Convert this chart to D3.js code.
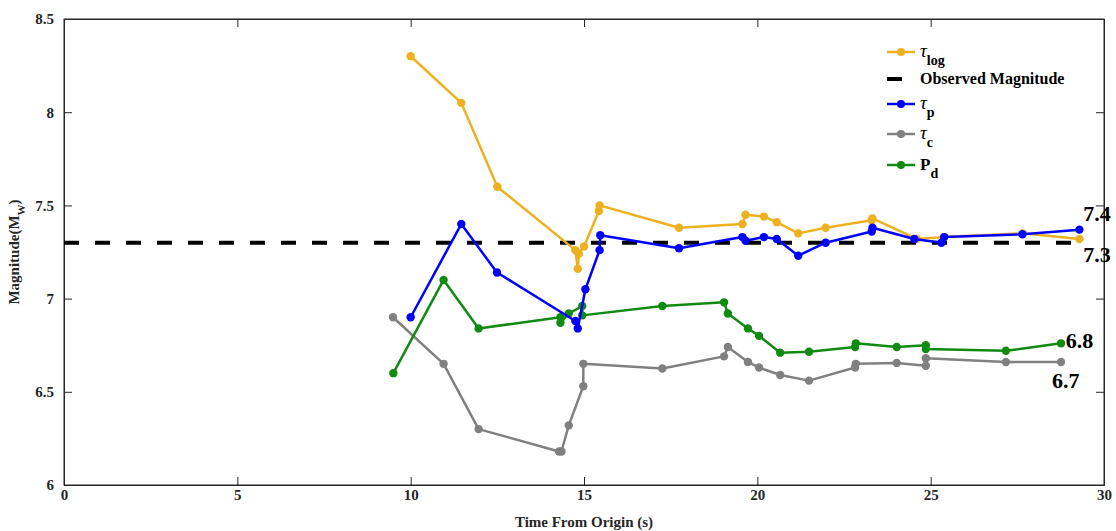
<!doctype html>
<html lang="en">
<head>
  <meta charset="utf-8">
  <title>Magnitude vs time</title>
  <script src="https://d3js.org/d3.v7.min.js"></script>
  <style>
  body { margin: 0; background: #fff; }
  text { font-family: "Liberation Serif", "Times New Roman", serif; font-weight: bold; }
  </style>
</head>
<body>
<script>
  // values
  var tauLogT = [10.0, 11.46, 12.5, 14.75, 14.82, 14.85, 15.0, 15.43, 15.45, 17.74, 19.57, 19.66, 20.19, 20.56, 21.18, 21.97, 23.3, 23.32, 24.6, 25.39, 27.65, 29.29];
  var tauLogM = [8.30, 8.05, 7.60, 7.26, 7.16, 7.24, 7.28, 7.47, 7.50, 7.38, 7.40, 7.45, 7.44, 7.41, 7.35, 7.38, 7.42, 7.43, 7.32, 7.33, 7.35, 7.32];

  var tauPT = [10.0, 11.46, 12.49, 14.75, 14.82, 15.04, 15.45, 15.47, 17.74, 19.57, 19.66, 20.19, 20.56, 21.18, 21.97, 23.3, 23.32, 24.53, 25.31, 25.39, 27.65, 29.29];
  var tauPM = [6.90, 7.40, 7.14, 6.88, 6.84, 7.05, 7.26, 7.34, 7.27, 7.33, 7.31, 7.33, 7.32, 7.23, 7.30, 7.36, 7.38, 7.32, 7.30, 7.33, 7.345, 7.37];

  var tauCT = [9.49, 10.95, 11.96, 14.28, 14.35, 14.56, 14.98, 14.98, 17.26, 19.04, 19.15, 19.73, 20.05, 20.66, 21.49, 22.82, 22.84, 24.02, 24.86, 24.86, 27.17, 28.76];
  var tauCM = [6.90, 6.65, 6.30, 6.18, 6.18, 6.32, 6.53, 6.65, 6.625, 6.69, 6.74, 6.66, 6.63, 6.59, 6.56, 6.63, 6.65, 6.655, 6.64, 6.68, 6.66, 6.66];

  var pdT = [9.5, 10.95, 11.96, 14.32, 14.32, 14.56, 14.95, 14.95, 17.26, 19.04, 19.15, 19.73, 20.05, 20.66, 21.49, 22.82, 22.84, 24.02, 24.86, 24.86, 27.17, 28.76];
  var pdM = [6.60, 7.10, 6.84, 6.90, 6.87, 6.92, 6.96, 6.91, 6.96, 6.98, 6.92, 6.84, 6.80, 6.71, 6.715, 6.74, 6.76, 6.74, 6.75, 6.73, 6.72, 6.76];

  var observedMag = 7.3;
  var observedEnd = 29.3;

  var xTicks = [0, 5, 10, 15, 20, 25, 30];
  var yTicks = [6, 6.5, 7, 7.5, 8, 8.5];

  // end labels next to the lines
  var endLabels = [
    {text: "7.4", t: 29.4, m: 7.455},
    {text: "7.3", t: 29.4, m: 7.235},
    {text: "6.8", t: 28.9, m: 6.775},
    {text: "6.7", t: 28.5, m: 6.56}
  ];

  var series = [
    {name: "log", t: tauLogT, m: tauLogM, color: "#EDB120"},
    {name: "p", t: tauPT, m: tauPM, color: "#0000FF"},
    {name: "c", t: tauCT, m: tauCM, color: "#808080"},
    {name: "d", t: pdT, m: pdM, color: "#108A10"}
  ];

  var W = 1116, H = 531;
  var margin = {top: 19, right: 12, bottom: 46, left: 64};
  var width = W - margin.left - margin.right,
      height = H - margin.top - margin.bottom;

  var x = d3.scaleLinear().domain([0, 30]).range([0, width]);
  var y = d3.scaleLinear().domain([6, 8.5]).range([height, 0]);

  var svg = d3.select("body").append("svg")
      .attr("width", W)
      .attr("height", H)
    .append("g")
      .attr("transform", "translate(" + margin.left + "," + margin.top + ")");

  // frame
  svg.append("rect")
      .attr("width", width).attr("height", height)
      .attr("fill", "none").attr("stroke", "#262626").attr("stroke-width", 1);

  // axes, ticks pointing inwards
  svg.append("g")
      .attr("transform", "translate(0," + height + ")")
      .call(d3.axisBottom(x).tickValues(xTicks).tickSize(-8).tickPadding(4).tickFormat(d3.format("d")));
  svg.append("g")
      .call(d3.axisLeft(y).tickValues(yTicks).tickSize(-8).tickPadding(10).tickFormat(function(d) { return d; }));
  svg.append("g")
      .attr("transform", "translate(" + width + ",0)")
      .call(d3.axisRight(y).tickValues(yTicks).tickSize(-8).tickFormat(""));
  svg.append("g")
      .call(d3.axisTop(x).tickValues(xTicks).tickSize(-8).tickFormat(""));

  svg.selectAll(".domain").attr("stroke", "#262626");
  svg.selectAll(".tick line").attr("stroke", "#262626");
  svg.selectAll(".tick text")
      .style("font-family", "'Liberation Serif', serif")
      .style("font-weight", "bold")
      .style("font-size", "15px")
      .attr("fill", "#262626");

  // axis titles
  svg.append("text")
      .attr("x", width / 2).attr("y", height + 42)
      .attr("text-anchor", "middle")
      .style("font-size", "15px")
      .attr("fill", "#262626")
      .text("Time From Origin (s)");

  var yl = svg.append("text")
      .attr("transform", "translate(-45," + (height / 2) + ") rotate(-90)")
      .attr("text-anchor", "middle")
      .style("font-size", "15px")
      .attr("fill", "#262626");
  yl.append("tspan").text("Magnitude(M");
  yl.append("tspan").attr("baseline-shift", "sub").style("font-size", "11px").text("W");
  yl.append("tspan").text(")");

  // observed magnitude dashed line
  svg.append("line")
      .attr("x1", x(0)).attr("x2", x(observedEnd))
      .attr("y1", y(observedMag)).attr("y2", y(observedMag))
      .attr("stroke", "#000").attr("stroke-width", 4)
      .attr("stroke-dasharray", "15,16");

  var line = d3.line()
      .x(function(d) { return x(d[0]); })
      .y(function(d) { return y(d[1]); });

  // draw in back-to-front order: gray, green, yellow, blue
  [2, 3, 0, 1].forEach(function(i) {
    var s = series[i];
    var pts = s.t.map(function(t, j) { return [t, s.m[j]]; });
    svg.append("path")
        .datum(pts)
        .attr("d", line)
        .attr("fill", "none")
        .attr("stroke", s.color)
        .attr("stroke-width", 2.5)
        .attr("stroke-linejoin", "round");
    svg.selectAll(".pt" + i)
        .data(pts)
      .enter().append("circle")
        .attr("class", "pt" + i)
        .attr("cx", function(d) { return x(d[0]); })
        .attr("cy", function(d) { return y(d[1]); })
        .attr("r", 4.2)
        .attr("fill", s.color);
  });

  // end labels
  svg.selectAll(".endlab")
      .data(endLabels)
    .enter().append("text")
      .attr("class", "endlab")
      .attr("x", function(d) { return x(d.t); })
      .attr("y", function(d) { return y(d.m); })
      .attr("dy", "0.35em")
      .style("font-size", "22px")
      .attr("fill", "#000")
      .text(function(d) { return d.text; });

  // legend
  var legend = svg.append("g").attr("transform", "translate(" + (887 - margin.left) + "," + (52 - margin.top) + ")");
  var legendRows = [
    {color: "#EDB120", sym: "\u03C4", sub: "log", dy: 0, marker: true},
    {color: "#000", label: "Observed Magnitude", dy: 27, marker: false},
    {color: "#0000FF", sym: "\u03C4", sub: "p", dy: 52, marker: true},
    {color: "#808080", sym: "\u03C4", sub: "c", dy: 82, marker: true},
    {color: "#108A10", sym: "P", sub: "d", dy: 113, marker: true}
  ];
  legendRows.forEach(function(r) {
    var g = legend.append("g").attr("transform", "translate(0," + r.dy + ")");
    if (r.marker) {
      g.append("line").attr("x1", 0).attr("x2", 28).attr("stroke", r.color).attr("stroke-width", 2.5);
      g.append("circle").attr("cx", 14).attr("r", 4).attr("fill", r.color);
    } else {
      g.append("line").attr("x1", 0).attr("x2", 15).attr("stroke", r.color).attr("stroke-width", 4);
    }
    var t = g.append("text").attr("x", 33).attr("y", 5).style("font-size", "16px").attr("fill", "#000");
    if (r.label) {
      t.text(r.label);
    } else {
      t.append("tspan")
          .style("font-style", r.sym === "P" ? "normal" : "italic")
          .style("font-weight", r.sym === "P" ? "bold" : "normal")
          .style("font-size", r.sym === "P" ? "17px" : "19px")
          .text(r.sym);
      t.append("tspan").attr("dy", 8).style("font-size", "14px").text(r.sub);
    }
  });
</script>
</body>
</html>
